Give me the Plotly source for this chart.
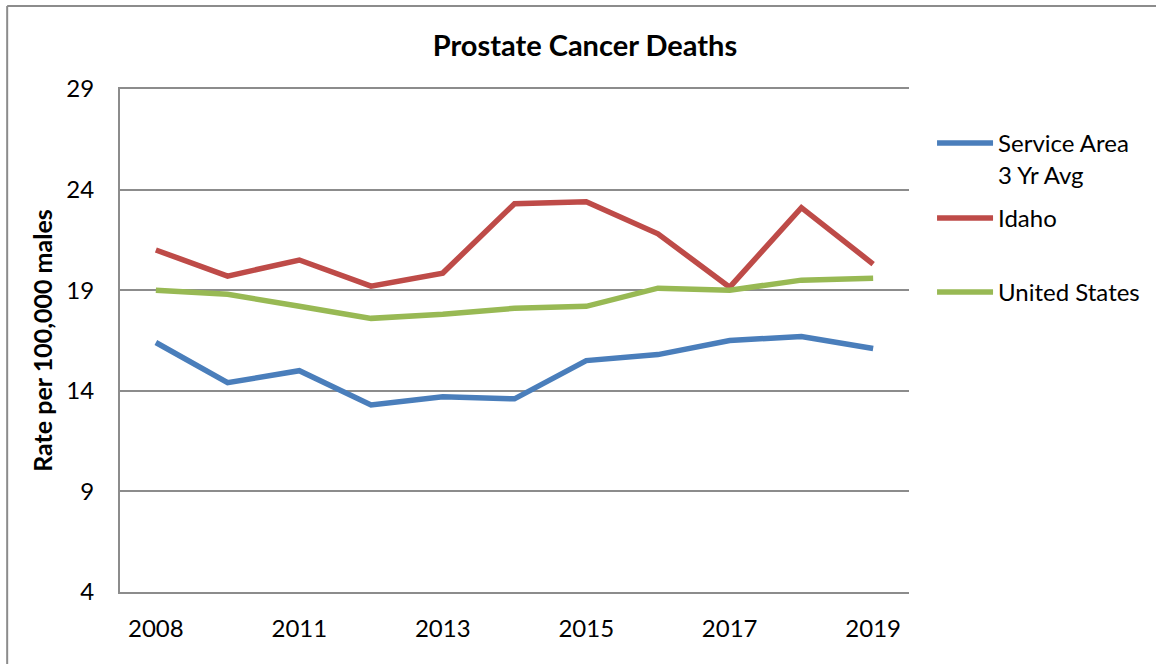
import plotly.graph_objects as go

years = ["2008", "2010", "2011", "2012", "2013", "2014", "2015", "2016", "2017", "2018", "2019"]
service_area = [16.4, 14.4, 15.0, 13.3, 13.7, 13.6, 15.5, 15.8, 16.5, 16.7, 16.1]
idaho = [21.0, 19.7, 20.5, 19.2, 19.85, 23.3, 23.4, 21.8, 19.15, 23.1, 20.3]
united_states = [19.0, 18.8, 18.2, 17.6, 17.8, 18.1, 18.2, 19.1, 19.0, 19.5, 19.6]
tick_labels = ["2008", "2011", "2013", "2015", "2017", "2019"]
y_ticks = [4, 9, 14, 19, 24, 29]

FONT = "Lato, 'Open Sans', sans-serif"
GRAY = "#8C8C8C"

fig = go.Figure()
fig.add_trace(go.Scatter(x=years, y=service_area, mode="lines", name="Service Area<br>3 Yr Avg",
                         line=dict(color="#4A7EBB", width=5.5), legend="legend"))
fig.add_trace(go.Scatter(x=years, y=idaho, mode="lines", name="Idaho",
                         line=dict(color="#BE4B48", width=5.5), legend="legend2"))
fig.add_trace(go.Scatter(x=years, y=united_states, mode="lines", name="United States",
                         line=dict(color="#98B954", width=5.5), legend="legend3"))

leg_common = dict(x=1.0279, xanchor="left", yanchor="top", valign="top",
                  font=dict(size=24, family=FONT), itemwidth=56, bgcolor="rgba(0,0,0,0)")

fig.update_layout(
    width=1156, height=664,
    margin=dict(l=120, r=246, t=89, b=72),
    paper_bgcolor="white", plot_bgcolor="white",
    font=dict(family=FONT, size=24, color="black"),
    title=dict(text="<b>Prostate Cancer Deaths</b>", x=0.506, xanchor="center",
               y=1 - 46 / 664, yanchor="middle", font=dict(size=29, family=FONT)),
    showlegend=True,
    legend=dict(y=0.9364, **leg_common),
    legend2=dict(y=0.7873, **leg_common),
    legend3=dict(y=0.6402, **leg_common),
    xaxis=dict(type="category", range=[-0.5, 10.5], tickmode="array", tickvals=tick_labels,
               ticktext=tick_labels, showgrid=False, showline=True, mirror=True,
               linecolor=GRAY, linewidth=2, ticks="",
               tickfont=dict(size=24), ticklabelstandoff=14),
    yaxis=dict(range=[4, 29], tickmode="array", tickvals=y_ticks, showgrid=True,
               gridcolor=GRAY, gridwidth=2, showline=True, linecolor=GRAY, linewidth=2,
               ticks="", zeroline=False, tickfont=dict(size=24), ticklabelstandoff=19,
               title=dict(text="<b>Rate per 100,000 males</b>", font=dict(size=25), standoff=7)),
    shapes=[
        dict(type="line", xref="paper", yref="paper", x0=-0.143, x1=1.4, y0=1.165, y1=1.165,
             line=dict(color=GRAY, width=2), layer="below"),
        dict(type="line", xref="paper", yref="paper", x0=-0.143, x1=-0.143, y0=-0.3, y1=1.165,
             line=dict(color=GRAY, width=2), layer="below"),
    ],
)

fig.write_html("out.html", config={"displayModeBar": False},
               post_script="document.body.style.margin='0';")
